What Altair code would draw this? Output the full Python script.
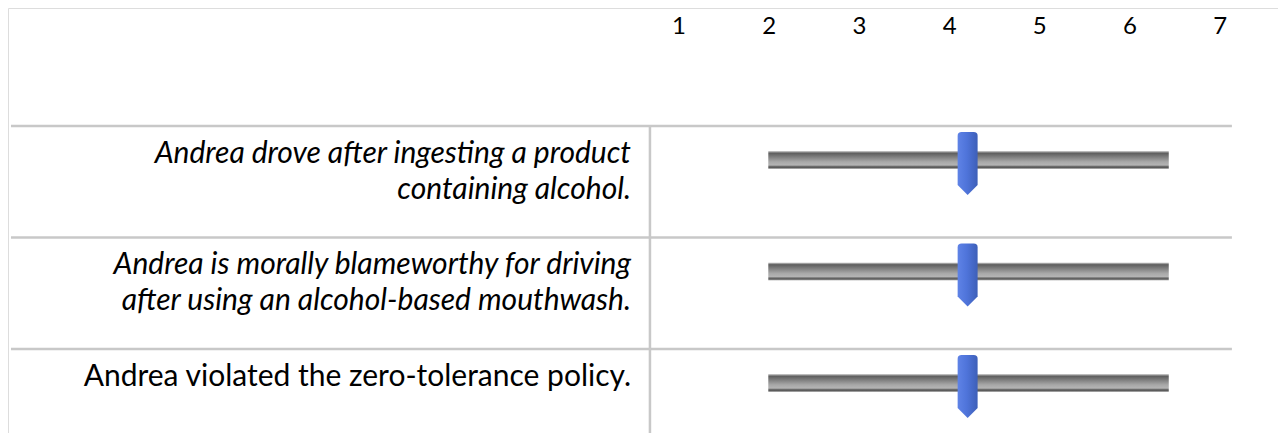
import altair as alt
import pandas as pd

# ---- data ----
scale_points = [1, 2, 3, 4, 5, 6, 7]
statement_lines = [
    ["Andrea drove after ingesting a product", "containing alcohol."],
    ["Andrea is morally blameworthy for driving", "after using an alcohol-based mouthwash."],
    ["Andrea violated the zero-tolerance policy."],
]
statement_italic = [True, True, False]
slider_values = [4.2, 4.2, 4.2]
track_start = [1.99, 1.99, 1.99]
track_end = [6.43, 6.43, 6.43]

# ---- tables ----
line_rows = []
for r, lines in enumerate(statement_lines):
    for i, t in enumerate(lines):
        line_rows.append({"row": r, "line": i, "text": t, "italic": statement_italic[r]})
lines_df = pd.DataFrame(line_rows)
ticks_df = pd.DataFrame({"v": scale_points})
rows_df = pd.DataFrame({
    "row": list(range(len(statement_lines))),
    "val": slider_values,
    "ts": track_start,
    "te": track_end,
})
grid_h = pd.DataFrame({"row": [0, 1, 2]})

X_DOM = [-6.439, 7.641]
Y_DOM = [-1.058, 2.753]
xs = alt.Scale(domain=X_DOM, nice=False, zero=False)
ys = alt.Scale(domain=Y_DOM, nice=False, zero=False, reverse=True)
FONT = "Lato"
LINE_COL = "#c8c8c8"

base = alt.Chart(rows_df)

tick_labels = alt.Chart(ticks_df).transform_calculate(y="-0.888").mark_text(
    font=FONT, fontSize=24, color="#000000", baseline="middle", align="center"
).encode(
    x=alt.X("v:Q", scale=xs, axis=None),
    y=alt.Y("y:Q", scale=ys, axis=None),
    text=alt.Text("v:Q"),
)

hlines = alt.Chart(grid_h).transform_calculate(x1="-6.406", x2="7.13").mark_rule(
    color=LINE_COL, strokeWidth=2.5
).encode(
    x=alt.X("x1:Q", scale=xs, axis=None),
    x2="x2:Q",
    y=alt.Y("row:Q", scale=ys, axis=None),
)

vline = alt.Chart(pd.DataFrame({"x": [0.678]})).transform_calculate(
    y1="0", y2="2.9"
).mark_rule(color=LINE_COL, strokeWidth=2.5).encode(
    x=alt.X("x:Q", scale=xs, axis=None),
    y=alt.Y("y1:Q", scale=ys, axis=None),
    y2="y2:Q",
)

def text_layer(italic):
    return alt.Chart(lines_df).transform_filter(
        f"datum.italic == {'true' if italic else 'false'}"
    ).transform_calculate(
        y="datum.row + 0.25 + datum.line * 0.32", x="0.468"
    ).mark_text(
        font=FONT, fontSize=30, color="#000000", align="right",
        baseline="middle", fontStyle="italic" if italic else "normal",
    ).encode(
        x=alt.X("x:Q", scale=xs, axis=None),
        y=alt.Y("y:Q", scale=ys, axis=None),
        text="text:N",
    )

track_grad = alt.Gradient(
    gradient="linear", x1=0, x2=0, y1=0, y2=1,
    stops=[
        alt.GradientStop(color="#d8d8d8", offset=0.0),
        alt.GradientStop(color="#5e5e5e", offset=0.12),
        alt.GradientStop(color="#7a7a7a", offset=0.3),
        alt.GradientStop(color="#a8a8a8", offset=0.6),
        alt.GradientStop(color="#b4b4b4", offset=0.78),
        alt.GradientStop(color="#6a6a6a", offset=0.86),
        alt.GradientStop(color="#5a5a5a", offset=0.92),
        alt.GradientStop(color="#c8c8c8", offset=1.0),
    ],
)

track = base.transform_calculate(
    y1="datum.row + 0.224", y2="datum.row + 0.386"
).mark_rect(color=track_grad).encode(
    x=alt.X("ts:Q", scale=xs, axis=None),
    x2="te:Q",
    y=alt.Y("y1:Q", scale=ys, axis=None),
    y2="y2:Q",
)

thumb_grad = alt.Gradient(
    gradient="linear", x1=0, x2=1, y1=0, y2=0,
    stops=[
        alt.GradientStop(color="#5f83e6", offset=0.0),
        alt.GradientStop(color="#4f74da", offset=0.45),
        alt.GradientStop(color="#3d5fb8", offset=1.0),
    ],
)
THUMB = ("M -0.317 -0.88 Q -0.317 -1 -0.19 -1 L 0.19 -1 Q 0.317 -1 0.317 -0.88 "
         "L 0.317 0.68 L 0 1 L -0.317 0.68 Z")
thumb = base.transform_calculate(y="datum.row + 0.336").mark_point(
    shape=THUMB, filled=True, fill=thumb_grad, size=3969, strokeWidth=0, opacity=1
).encode(
    x=alt.X("val:Q", scale=xs, axis=None),
    y=alt.Y("y:Q", scale=ys, axis=None),
)

chart = alt.layer(
    hlines, vline, tick_labels, text_layer(True), text_layer(False), track, thumb
).properties(
    width=1270, height=425, padding=0, autosize=alt.AutoSizeParams(type="none")
).configure_view(stroke=None).configure(background="#ffffff")

chart.save("out.html", embed_options={"renderer": "svg", "actions": False})
